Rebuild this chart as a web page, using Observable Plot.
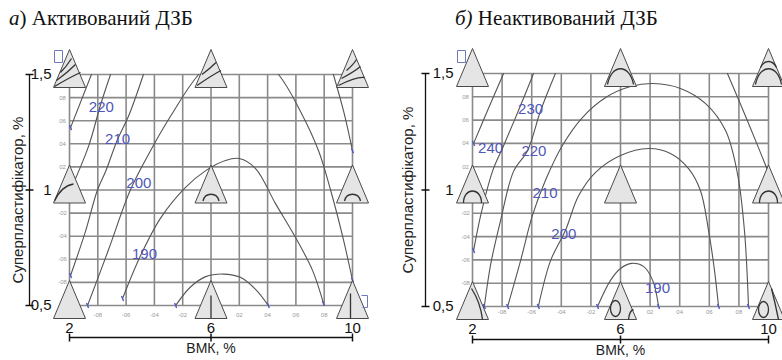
<!DOCTYPE html>
<html><head><meta charset="utf-8">
<script src="https://cdn.jsdelivr.net/npm/d3@7"></script>
<script src="https://cdn.jsdelivr.net/npm/@observablehq/plot@0.6"></script>
<style>
body{margin:0;background:#fff;}
#wrap{position:relative;width:782px;height:360px;overflow:hidden;background:#fff;}
.title{position:absolute;top:6px;font-family:"Liberation Serif","Times New Roman",serif;font-size:21px;color:#111;white-space:nowrap;}
.panel{position:absolute;top:36px;}
</style></head><body>
<div id="wrap">
  <div class="title" style="left:9px"><i>а</i>) Активований ДЗБ</div>
  <div class="title" style="left:455px"><i>б)</i> Неактивований ДЗБ</div>
  <div class="panel" id="pa" style="left:0px"></div>
  <div class="panel" id="pb" style="left:391px"></div>
</div>
<script>
// ---- axes / grid values ----
const xDomain = [2, 10];
const yDomain = [0.5, 1.5];
const xGrid = [2, 2.8, 3.6, 4.4, 5.2, 6, 6.8, 7.6, 8.4, 9.2, 10];
const yGrid = [0.5, 0.6, 0.7, 0.8, 0.9, 1, 1.1, 1.2, 1.3, 1.4, 1.5];
const xTicks = [2, 6, 10];
const xTickLabels = ["2", "6", "10"];
const yTicks = [0.5, 1, 1.5];
const yTickLabels = ["0,5", "1", "1,5"];
const xTitle = "ВМК, %";
const yTitle = "Суперпластифікатор, %";
const xMinor = [2.8, 3.6, 4.4, 5.2, 6.8, 7.6, 8.4, 9.2];
const xMinorLabels = ["-08", "-06", "-04", "-02", "02", "04", "06", "08"];
const yMinor = [1.4, 1.3, 1.2, 1.1, 0.9, 0.8, 0.7, 0.6];
const yMinorLabels = ["08", "06", "04", "02", "-02", "-04", "-06", "-08"];
const vertexX = [2, 6, 10];
const vertexY = [0.5, 1, 1.5];

// ---- panel а: contour lines (x = ВМК, y = суперпластифікатор) ----
const a230 = [[2.62, 1.5], [2.03, 1.27]];
const a220 = [[3.16, 1.5], [2.88, 1.37], [2.54, 1.19], [2.0, 0.99]];
const a210 = [[4.09, 1.5], [3.67, 1.32], [3.36, 1.22], [3.02, 1.08], [2.79, 1.0], [2.45, 0.82], [2.03, 0.63]];
const a210r = [[9.46, 1.5], [9.75, 1.34], [10.0, 1.17]];
const a200 = [[2.51, 0.5], [3.1, 0.74], [3.72, 1.0], [4.29, 1.17], [4.86, 1.32], [5.65, 1.5], [6.8, 1.66], [7.91, 1.5], [8.53, 1.34], [9.04, 1.17], [9.38, 1.0], [9.72, 0.8], [10.0, 0.61]];
const a190 = [[3.5, 0.53], [4.01, 0.716], [4.57, 0.877], [5.28, 1.011], [5.85, 1.084], [6.41, 1.128], [6.8, 1.136], [7.26, 1.093], [7.82, 0.942], [8.39, 0.794], [8.87, 0.652], [9.18, 0.509]];
const a180 = [[5.0, 0.5], [5.42, 0.58], [5.85, 0.625], [6.35, 0.636], [6.83, 0.622], [7.26, 0.57], [7.62, 0.5]];
const aLabelText = ["220", "210", "200", "190"];
const aLabelX = [2.9, 3.36, 3.96, 4.12];
const aLabelY = [1.36, 1.22, 1.03, 0.723];
const aGlyphs = ["hatch3", "curves2", "curves3", "curve1", "domeSmall", "domeSmall", "plain", "vline", "vlineBox"];

// ---- panel б ----
const b240 = [[2.84, 1.5], [2.43, 1.35], [2.03, 1.2]];
const b230 = [[3.65, 1.5], [3.24, 1.34], [2.84, 1.19], [2.54, 1.08], [2.22, 0.89], [2.03, 0.74]];
const b220 = [[4.24, 1.5], [3.84, 1.34], [3.49, 1.17], [3.11, 1.08], [2.76, 0.87], [2.49, 0.68], [2.32, 0.5]];
const b220r = [[8.89, 1.5], [9.45, 1.29], [10.0, 1.075]];
const b210 = [[2.95, 0.5], [3.3, 0.697], [3.62, 0.891], [3.97, 1.041], [4.43, 1.191], [4.97, 1.311], [5.6, 1.397], [6.27, 1.444], [6.89, 1.457], [7.62, 1.436], [8.3, 1.371], [8.84, 1.255], [9.16, 1.071], [9.35, 0.826], [9.46, 0.5]];
const b200 = [[3.78, 0.5], [4.11, 0.697], [4.51, 0.826], [4.87, 0.976], [5.32, 1.075], [6.0, 1.148], [6.76, 1.178], [7.35, 1.157], [7.84, 1.092], [8.16, 0.998], [8.38, 0.826], [8.54, 0.655], [8.65, 0.5]];
const b190 = [[5.38, 0.5], [5.73, 0.612], [6.0, 0.663], [6.3, 0.685], [6.62, 0.672], [6.87, 0.612], [7.03, 0.5]];
const bLabelText = ["240", "230", "220", "210", "200", "190"];
const bLabelX = [2.49, 3.57, 3.66, 3.96, 4.47, 7.0];
const bLabelY = [1.18, 1.345, 1.165, 0.987, 0.809, 0.579];
const bGlyphs = ["plainBox", "domeBig", "dome2", "domeMid", "plain", "domeMid", "curveR", "ellipse", "ellipse2"];

// ---- glyph symbols (pixel shapes drawn at data positions) ----
function ell(c, cx, cy, rx, ry) {
  const k = 0.5523;
  c.moveTo(cx + rx, cy);
  c.bezierCurveTo(cx + rx, cy + k * ry, cx + k * rx, cy + ry, cx, cy + ry);
  c.bezierCurveTo(cx - k * rx, cy + ry, cx - rx, cy + k * ry, cx - rx, cy);
  c.bezierCurveTo(cx - rx, cy - k * ry, cx - k * rx, cy - ry, cx, cy - ry);
  c.bezierCurveTo(cx + k * rx, cy - ry, cx + rx, cy - k * ry, cx + rx, cy);
}
const triSym = {draw(c) { c.moveTo(0, -25); c.lineTo(16, 13); c.lineTo(-16, 13); c.closePath(); }};
const glyphSym = {
  hatch3: {draw(c) { c.moveTo(-9, -2); c.quadraticCurveTo(-3, -8, 2, -16); c.moveTo(-13, 6); c.quadraticCurveTo(-2, -2, 6, -10); c.moveTo(-15, 12); c.quadraticCurveTo(0, 3, 11, -2); }},
  curves2: {draw(c) { c.moveTo(-9, 0); c.quadraticCurveTo(-1, -6, 5, -12); c.moveTo(-14, 11); c.quadraticCurveTo(2, 0, 10, -4); }},
  curves3: {draw(c) { c.moveTo(-6, -4); c.quadraticCurveTo(1, -10, 4, -15); c.moveTo(-11, 4); c.quadraticCurveTo(2, -3, 8, -8); c.moveTo(-14, 11); c.quadraticCurveTo(4, 2, 12, 3); }},
  curve1: {draw(c) { c.moveTo(-15, 11); c.quadraticCurveTo(-8, -4, 4, -6); }},
  domeSmall: {draw(c) { c.moveTo(-8, 11); c.bezierCurveTo(-6, 2, 6, 2, 8, 11); }},
  plain: {draw(c) {}},
  plainBox: {draw(c) {}},
  vline: {draw(c) { c.moveTo(0, -10); c.lineTo(0, 13); }},
  vlineBox: {draw(c) { c.moveTo(-2, -12); c.lineTo(-2, 13); }},
  domeBig: {draw(c) { c.moveTo(-13, 11); c.bezierCurveTo(-9, -10, 9, -10, 13, 11); }},
  dome2: {draw(c) { c.moveTo(-13, 11); c.bezierCurveTo(-9, -10, 9, -10, 13, 11); c.moveTo(-8, -6); c.bezierCurveTo(-4, -14, 4, -14, 8, -6); }},
  domeMid: {draw(c) { c.moveTo(-9, 13); c.bezierCurveTo(-9, -3, 9, -3, 9, 13); }},
  curveR: {draw(c) { c.moveTo(-1, -18); c.quadraticCurveTo(8, -4, 10, 13); }},
  ellipse: {draw(c) { ell(c, -5, 2, 5, 8); c.moveTo(8, 13); c.quadraticCurveTo(9, 4, 13, 3); }},
  ellipse2: {draw(c) { ell(c, -5, 3, 5, 8); c.moveTo(3, -18); c.quadraticCurveTo(7, -2, 10, 13); }}
};
// small blue boxes drawn next to some glyphs
const boxSym = {
  hatch3: {draw(c) { c.moveTo(-15, -24); c.lineTo(-7, -24); c.lineTo(-7, -12); c.lineTo(-15, -12); c.closePath(); }},
  plainBox: {draw(c) { c.moveTo(-15, -23); c.lineTo(-7, -23); c.lineTo(-7, -11); c.lineTo(-15, -11); c.closePath(); }},
  vlineBox: {draw(c) { c.moveTo(9, -10); c.lineTo(15, -10); c.lineTo(15, 2); c.lineTo(10, 2); }}
};
const hTick = {draw(c) { c.moveTo(-4, 0); c.lineTo(4, 0); }};
const vTick = {draw(c) { c.moveTo(0, -4); c.lineTo(0, 4); }};
const blueTick = {draw(c) { c.moveTo(-1, -2.5); c.lineTo(1, 2.5); }};

const vertices = vertexY.slice().reverse().flatMap(y => vertexX.map(x => ({x, y})));

function panel(opt) {
  const lineData = opt.contours.flatMap((pts, i) => pts.map(([x, y]) => ({x, y, id: i})));
  const ends = opt.contours.flatMap(pts => [pts[0], pts[pts.length - 1]])
    .filter(([x, y]) => y < 1.49).map(([x, y]) => ({x, y}));
  const labels = opt.labelText.map((t, i) => ({t, x: opt.labelX[i], y: opt.labelY[i]}));
  const glyphMarks = Object.keys(glyphSym).map(k => {
    const d = vertices.filter((v, i) => opt.glyphs[i] === k);
    return Plot.dot(d, {x: "x", y: "y", symbol: glyphSym[k], fill: "none", stroke: "#333", strokeWidth: 1.3});
  });
  const boxMarks = Object.keys(boxSym).map(k => {
    const d = vertices.filter((v, i) => opt.glyphs[i] === k);
    return Plot.dot(d, {x: "x", y: "y", symbol: boxSym[k], fill: "none", stroke: "#7078c0", strokeWidth: 1});
  });
  const font = "Liberation Sans, Arial, sans-serif";
  return Plot.plot({
    width: 391, height: 324,
    marginLeft: opt.ml, marginRight: opt.mr, marginTop: opt.mt, marginBottom: opt.mb,
    x: {domain: xDomain, axis: null},
    y: {domain: yDomain, axis: null},
    style: {background: "transparent", overflow: "visible", fontFamily: font},
    marks: [
      Plot.ruleX(xGrid, {stroke: "#8a8a8a", strokeWidth: 1.6}),
      Plot.ruleY(yGrid, {stroke: "#8a8a8a", strokeWidth: 1.6}),
      Plot.text(xMinor, {x: d => d, y: () => yDomain[0], text: (d, i) => xMinorLabels[i], dy: opt.minorDy, fontSize: 6, fill: "#999"}),
      Plot.text(yMinor, {x: () => xDomain[0], y: d => d, text: (d, i) => yMinorLabels[i], dx: -7, fontSize: 6, fill: "#999"}),
      Plot.line(lineData, {x: "x", y: "y", z: "id", curve: "catmull-rom", stroke: "#555", strokeWidth: 1.1, clip: true}),
      Plot.dot(ends, {x: "x", y: "y", symbol: blueTick, stroke: "#4f57c0", strokeWidth: 1.4}),
      Plot.dot(vertices, {x: "x", y: "y", symbol: triSym, fill: "#e5e5e5", stroke: "#4a4a4a", strokeWidth: 1}),
      ...glyphMarks,
      ...boxMarks,
      Plot.text(labels, {x: "x", y: "y", text: "t", fill: "#4f57b8", fontSize: 15, fontFamily: font}),
      // y axis
      Plot.ruleX([xDomain[0]], {y1: yDomain[0], y2: yDomain[1], dx: opt.axDx, stroke: "#111", strokeWidth: 1.3}),
      Plot.dot(yTicks, {x: () => xDomain[0], y: d => d, symbol: hTick, stroke: "#111", dx: opt.axDx}),
      Plot.text(yTicks, {x: () => xDomain[0], y: d => d, text: (d, i) => yTickLabels[i], dx: opt.ylabDx, textAnchor: "end", fontSize: 15, fill: "#111"}),
      Plot.text([yTitle], {frameAnchor: "left", textAnchor: "middle", rotate: -90, dx: opt.ytDx, dy: opt.ytDy, fontSize: 15, fill: "#222"}),
      // x axis
      Plot.ruleY([yDomain[0]], {x1: xDomain[0], x2: xDomain[1], dy: opt.axDy, stroke: "#111", strokeWidth: 1.3}),
      Plot.dot(xTicks, {x: d => d, y: () => yDomain[0], symbol: vTick, stroke: "#111", dy: opt.axDy}),
      Plot.text(xTicks, {x: d => d, y: () => yDomain[0], text: (d, i) => xTickLabels[i], dy: 23, fontSize: 15, fill: "#111"}),
      Plot.text([xTitle], {frameAnchor: "bottom", dy: opt.xtDy, fontSize: 14, fill: "#222"})
    ]
  });
}

document.getElementById("pa").append(panel({
  contours: [a230, a220, a210, a210r, a200, a190, a180],
  labelText: aLabelText, labelX: aLabelX, labelY: aLabelY, glyphs: aGlyphs,
  ml: 69, mr: 39, mt: 38, mb: 55, axDx: -40, ylabDx: -18, ytDx: -51, ytDy: 10, axDy: 32, xtDy: 47, minorDy: 10
}));
document.getElementById("pb").append(panel({
  contours: [b240, b230, b220, b220r, b210, b200, b190],
  labelText: bLabelText, labelX: bLabelX, labelY: bLabelY, glyphs: bGlyphs,
  ml: 81, mr: 14, mt: 37, mb: 54, axDx: -47, ylabDx: -19, ytDx: -64, ytDy: 0, axDy: 33, xtDy: 48, minorDy: 6
}));
</script>
</body></html>
